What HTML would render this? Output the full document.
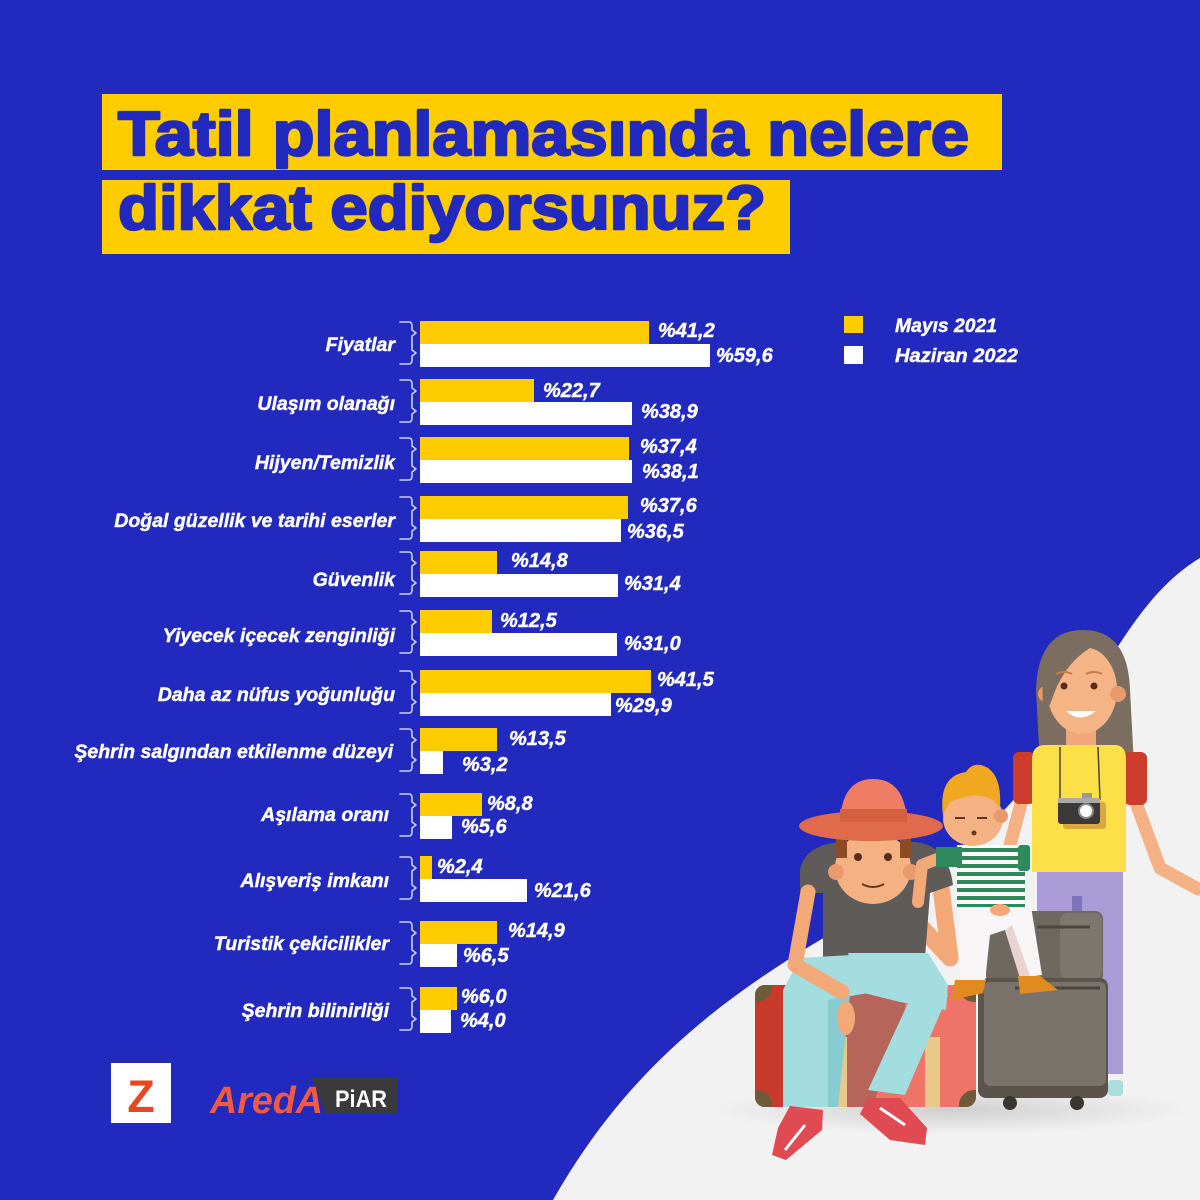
<!DOCTYPE html>
<html><head><meta charset="utf-8"><style>
html,body{margin:0;padding:0;background:#2229be;}
svg{display:block;}
.lb{font-family:"Liberation Sans",sans-serif;font-weight:bold;font-style:italic;fill:#fff;stroke:#fff;stroke-width:0.45;}
</style></head><body>
<svg width="1200" height="1200" viewBox="0 0 1200 1200" xmlns="http://www.w3.org/2000/svg">
<defs>
<pattern id="stripes" width="10" height="8" patternUnits="userSpaceOnUse">
<rect width="10" height="8" fill="#ffffff"/><rect y="0" width="10" height="4" fill="#2e8a5c"/>
</pattern>
<clipPath id="redc"><rect x="755" y="985" width="221" height="122" rx="10"/></clipPath>
<radialGradient id="shd" cx="0.5" cy="0.5" r="0.5"><stop offset="0" stop-color="#cfcfcf"/><stop offset="1" stop-color="#f2f2f2"/></radialGradient>
</defs>
<rect width="1200" height="1200" fill="#2229be"/>
<!-- gray region -->
<path d="M553,1200 C610,1100 680,1030 780,965 S960,870 1030,780 S1130,600 1200,558 L1200,1200 Z" fill="#f2f2f2"/>

<!-- title -->
<rect x="102" y="94" width="900" height="76" fill="#ffcc00"/>
<rect x="102" y="180" width="688" height="74" fill="#ffcc00"/>
<text x="118" y="155" font-family="Liberation Sans, sans-serif" font-weight="bold" font-size="62" fill="#2229be" stroke="#2229be" stroke-width="2.5" stroke-linejoin="round" textLength="851" lengthAdjust="spacingAndGlyphs">Tatil planlamasında nelere</text>
<text x="118" y="229" font-family="Liberation Sans, sans-serif" font-weight="bold" font-size="62" fill="#2229be" stroke="#2229be" stroke-width="2.5" stroke-linejoin="round" textLength="648" lengthAdjust="spacingAndGlyphs">dikkat ediyorsunuz?</text>

<!-- legend -->
<rect x="844" y="316" width="19" height="17" fill="#ffcc00"/>
<rect x="844" y="346" width="19" height="18" fill="#ffffff"/>
<text class="lb" x="895" y="332" font-size="19.5" textLength="102" lengthAdjust="spacingAndGlyphs">Mayıs 2021</text>
<text class="lb" x="895" y="362" font-size="19.5" textLength="123" lengthAdjust="spacingAndGlyphs">Haziran 2022</text>

<!-- bars -->
<g fill="#ffcc00">
<rect x="420" y="321" width="229" height="23"/>
<rect x="420" y="379" width="114" height="23"/>
<rect x="420" y="437" width="209" height="23"/>
<rect x="420" y="496" width="208" height="23"/>
<rect x="420" y="551" width="77" height="23"/>
<rect x="420" y="610" width="72" height="23"/>
<rect x="420" y="670" width="231" height="23"/>
<rect x="420" y="728" width="77" height="23"/>
<rect x="420" y="793" width="62" height="23"/>
<rect x="420" y="856" width="12" height="23"/>
<rect x="420" y="921" width="77" height="23"/>
<rect x="420" y="987" width="37" height="23"/>
</g>
<g fill="#ffffff">
<rect x="420" y="344" width="290" height="23"/>
<rect x="420" y="402" width="212" height="23"/>
<rect x="420" y="460" width="212" height="23"/>
<rect x="420" y="519" width="201" height="23"/>
<rect x="420" y="574" width="198" height="23"/>
<rect x="420" y="633" width="197" height="23"/>
<rect x="420" y="693" width="191" height="23"/>
<rect x="420" y="751" width="23" height="23"/>
<rect x="420" y="816" width="32" height="23"/>
<rect x="420" y="879" width="107" height="23"/>
<rect x="420" y="944" width="37" height="23"/>
<rect x="420" y="1010" width="31" height="23"/>
</g>

<!-- braces -->
<g fill="none" stroke="#c9cff5" stroke-width="1.6" stroke-linejoin="round" stroke-linecap="round">
<path d="M400,322 L409,322 Q412,322 412,326 L412,330 L416,333 L412,336 L412,350 L416,353 L412,356 L412,360 Q412,364 409,364 L400,364"/>
<path d="M400,380 L409,380 Q412,380 412,384 L412,388 L416,391 L412,394 L412,408 L416,411 L412,414 L412,418 Q412,422 409,422 L400,422"/>
<path d="M400,438 L409,438 Q412,438 412,442 L412,446 L416,449 L412,452 L412,466 L416,469 L412,472 L412,476 Q412,480 409,480 L400,480"/>
<path d="M400,497 L409,497 Q412,497 412,501 L412,505 L416,508 L412,511 L412,525 L416,528 L412,531 L412,535 Q412,539 409,539 L400,539"/>
<path d="M400,552 L409,552 Q412,552 412,556 L412,560 L416,563 L412,566 L412,580 L416,583 L412,586 L412,590 Q412,594 409,594 L400,594"/>
<path d="M400,611 L409,611 Q412,611 412,615 L412,619 L416,622 L412,625 L412,639 L416,642 L412,645 L412,649 Q412,653 409,653 L400,653"/>
<path d="M400,671 L409,671 Q412,671 412,675 L412,679 L416,682 L412,685 L412,699 L416,702 L412,705 L412,709 Q412,713 409,713 L400,713"/>
<path d="M400,729 L409,729 Q412,729 412,733 L412,737 L416,740 L412,743 L412,757 L416,760 L412,763 L412,767 Q412,771 409,771 L400,771"/>
<path d="M400,794 L409,794 Q412,794 412,798 L412,802 L416,805 L412,808 L412,822 L416,825 L412,828 L412,832 Q412,836 409,836 L400,836"/>
<path d="M400,857 L409,857 Q412,857 412,861 L412,865 L416,868 L412,871 L412,885 L416,888 L412,891 L412,895 Q412,899 409,899 L400,899"/>
<path d="M400,922 L409,922 Q412,922 412,926 L412,930 L416,933 L412,936 L412,950 L416,953 L412,956 L412,960 Q412,964 409,964 L400,964"/>
<path d="M400,988 L409,988 Q412,988 412,992 L412,996 L416,999 L412,1002 L412,1016 L416,1019 L412,1022 L412,1026 Q412,1030 409,1030 L400,1030"/>
</g>

<!-- category labels -->
<g class="lb" font-size="19.5" text-anchor="end">
<text x="395" y="351">Fiyatlar</text>
<text x="395" y="410">Ulaşım olanağı</text>
<text x="395" y="469">Hijyen/Temizlik</text>
<text x="395" y="527">Doğal güzellik ve tarihi eserler</text>
<text x="395" y="586">Güvenlik</text>
<text x="395" y="642">Yiyecek içecek zenginliği</text>
<text x="395" y="701">Daha az nüfus yoğunluğu</text>
<text x="393" y="758">Şehrin salgından etkilenme düzeyi</text>
<text x="389" y="821">Aşılama oranı</text>
<text x="389" y="887">Alışveriş imkanı</text>
<text x="389" y="950">Turistik çekicilikler</text>
<text x="389" y="1017">Şehrin bilinirliği</text>
</g>

<!-- value labels -->
<g class="lb" font-size="20">
<text x="658" y="337">%41,2</text>
<text x="716" y="362">%59,6</text>
<text x="543" y="397">%22,7</text>
<text x="641" y="418">%38,9</text>
<text x="640" y="453">%37,4</text>
<text x="642" y="478">%38,1</text>
<text x="640" y="512">%37,6</text>
<text x="627" y="538">%36,5</text>
<text x="511" y="567">%14,8</text>
<text x="624" y="590">%31,4</text>
<text x="500" y="627">%12,5</text>
<text x="624" y="650">%31,0</text>
<text x="657" y="686">%41,5</text>
<text x="615" y="712">%29,9</text>
<text x="509" y="745">%13,5</text>
<text x="462" y="771">%3,2</text>
<text x="487" y="810">%8,8</text>
<text x="461" y="833">%5,6</text>
<text x="437" y="873">%2,4</text>
<text x="534" y="897">%21,6</text>
<text x="508" y="937">%14,9</text>
<text x="463" y="962">%6,5</text>
<text x="461" y="1003">%6,0</text>
<text x="460" y="1027">%4,0</text>
</g>

<!-- logos -->
<rect x="111" y="1063" width="60" height="60" fill="#ffffff"/>
<text x="141" y="1112" text-anchor="middle" font-family="Liberation Sans, sans-serif" font-weight="bold" font-size="45" fill="#e8461e">Z</text>
<polygon points="312,1078 397,1078 397,1113 325,1113" fill="#3a3a3a"/>
<text x="210" y="1113" font-family="Liberation Sans, sans-serif" font-weight="bold" font-style="italic" font-size="38" fill="#f05a40" textLength="113" lengthAdjust="spacingAndGlyphs">AredA</text>
<text x="335" y="1107" font-family="Liberation Sans, sans-serif" font-weight="bold" font-size="24" fill="#ffffff" textLength="52" lengthAdjust="spacingAndGlyphs">PiAR</text>

<!-- illustration -->
<ellipse cx="950" cy="1110" rx="240" ry="24" fill="url(#shd)"/>

<!-- woman -->
<path d="M1040,765 L1036,690 Q1038,630 1083,630 Q1128,630 1130,690 L1134,765 Z" fill="#7b6e60"/>
<rect x="1066" y="722" width="30" height="28" fill="#f0a878"/>
<polyline points="1135,800 1160,868 1198,889" fill="none" stroke="#f4b183" stroke-width="13" stroke-linecap="round" stroke-linejoin="round"/>
<polyline points="1022,800 1010,845 1002,870" fill="none" stroke="#f4b183" stroke-width="13" stroke-linecap="round" stroke-linejoin="round"/>
<rect x="1013" y="752" width="22" height="52" rx="6" fill="#cc3d2c"/>
<rect x="1124" y="752" width="23" height="53" rx="6" fill="#cc3d2c"/>
<path d="M1032,760 Q1032,745 1045,745 L1115,745 Q1126,745 1126,760 L1126,872 L1032,872 Z" fill="#fde047"/>
<rect x="1037" y="872" width="86" height="202" fill="#a99bd6"/>
<rect x="1108" y="1080" width="15" height="16" rx="4" fill="#a8dede"/>
<line x1="1060" y1="747" x2="1060" y2="800" stroke="#444" stroke-width="1.5"/>
<line x1="1098" y1="747" x2="1100" y2="800" stroke="#444" stroke-width="1.5"/>
<rect x="1063" y="802" width="43" height="27" rx="3" fill="#d9a840"/>
<rect x="1082" y="793" width="10" height="6" fill="#999"/>
<rect x="1058" y="798" width="42" height="26" rx="3" fill="#3a3a3a"/>
<rect x="1058" y="798" width="42" height="5" fill="#aaa"/>
<circle cx="1086" cy="811" r="7" fill="#fff" stroke="#888" stroke-width="2"/>
<ellipse cx="1082" cy="690" rx="35" ry="44" fill="#f5b485"/>
<circle cx="1046" cy="694" r="8" fill="#e89a6c"/>
<circle cx="1118" cy="694" r="8" fill="#e89a6c"/>
<path d="M1043,705 Q1038,640 1083,632 Q1124,632 1126,690 Q1118,655 1090,648 Q1062,665 1050,705 Z" fill="#7b6e60"/>
<circle cx="1064" cy="686" r="3.5" fill="#5a2d1a"/>
<circle cx="1094" cy="686" r="3.5" fill="#5a2d1a"/>
<path d="M1056,674 Q1064,670 1072,674 M1086,674 Q1094,670 1102,674" stroke="#c87a4a" stroke-width="2" fill="none"/>
<path d="M1066,711 Q1080,724 1096,711 Z" fill="#ffffff"/>

<!-- gray suitcases -->
<rect x="1072" y="896" width="10" height="16" fill="#7e74b8"/>
<rect x="986" y="911" width="117" height="72" rx="8" fill="#6e6861"/>
<rect x="1060" y="913" width="42" height="66" rx="8" fill="#7d776f"/>
<line x1="1037" y1="927" x2="1090" y2="927" stroke="#4a4540" stroke-width="3"/>
<rect x="978" y="978" width="130" height="120" rx="8" fill="#5a544d"/>
<rect x="984" y="982" width="122" height="104" rx="6" fill="#79736b"/>
<line x1="1015" y1="988" x2="1100" y2="988" stroke="#4a4540" stroke-width="3"/>
<circle cx="1010" cy="1103" r="7" fill="#3a3632"/>
<circle cx="1077" cy="1103" r="7" fill="#3a3632"/>

<!-- red suitcase -->
<g clip-path="url(#redc)">
<rect x="755" y="985" width="221" height="122" fill="#ef7468"/>
<rect x="755" y="985" width="40" height="122" fill="#c73b2a"/>
<polygon points="815,987 905,987 905,1020 872,1107 815,1107" fill="#b7645b"/>
<rect x="832" y="1037" width="15" height="70" fill="#e8c98a"/>
<rect x="925" y="1037" width="15" height="70" fill="#e8c98a"/>
<circle cx="757" cy="987" r="15" fill="#6e5b3a"/>
<circle cx="974" cy="987" r="15" fill="#6e5b3a"/>
<circle cx="757" cy="1105" r="15" fill="#6e5b3a"/>
<circle cx="974" cy="1105" r="15" fill="#6e5b3a"/>
</g>

<!-- man -->
<polyline points="940,880 950,958 898,902" fill="none" stroke="#f2a877" stroke-width="17" stroke-linecap="round" stroke-linejoin="round"/>
<path d="M800,870 Q805,845 840,842 L915,842 Q948,845 953,885 L930,893 L925,958 L823,958 L823,893 L800,893 Z" fill="#5e5b58"/>
<polygon points="800,958 885,953 885,990 828,1000 828,1107 783,1107 783,990" fill="#a3dde0"/>
<polygon points="848,953 928,953 948,985 946,1010 900,1002 860,992" fill="#a3dde0"/>
<polygon points="915,988 948,995 905,1095 868,1090" fill="#a3dde0"/>
<polygon points="828,1000 850,995 838,1107 828,1107" fill="#86ccd0"/>
<polyline points="808,892 795,965 842,992" fill="none" stroke="#f2a877" stroke-width="15" stroke-linecap="round" stroke-linejoin="round"/>
<ellipse cx="846" cy="1018" rx="9" ry="17" fill="#f2a877"/>
<polygon points="790,1106 823,1110 822,1130 786,1160 772,1155 778,1128" fill="#e04a52"/>
<polygon points="868,1098 900,1098 927,1128 925,1145 890,1140 860,1114" fill="#e04a52"/>
<path d="M785,1150 L805,1125" stroke="#fff" stroke-width="3"/>
<path d="M880,1108 L905,1125" stroke="#fff" stroke-width="3"/>
<ellipse cx="873" cy="868" rx="38" ry="36" fill="#f3b184"/>
<circle cx="836" cy="872" r="8" fill="#e89a6c"/>
<circle cx="911" cy="872" r="8" fill="#e89a6c"/>
<rect x="836" y="836" width="11" height="22" fill="#8c4b25"/>
<rect x="900" y="836" width="11" height="22" fill="#8c4b25"/>
<circle cx="858" cy="857" r="4" fill="#5a2d1a"/>
<circle cx="888" cy="857" r="4" fill="#5a2d1a"/>
<path d="M862,884 Q873,890 884,884" stroke="#6a3520" stroke-width="2" fill="none"/>
<ellipse cx="871" cy="826" rx="72" ry="15" fill="#e06a4c"/>
<path d="M840,822 Q842,779 873,779 Q905,779 907,822 Z" fill="#ef7d65"/>
<rect x="840" y="809" width="67" height="13" fill="#d5603f"/>

<!-- child -->
<polygon points="958,900 1030,900 1042,975 1020,978 1005,930 990,935 985,982 960,982" fill="#f7f5f5"/>
<polygon points="1005,930 1020,978 1030,976 1012,925" fill="#e7d4d2"/>
<polygon points="955,980 986,980 983,993 952,1000" fill="#e08a20"/>
<polygon points="1018,976 1040,976 1058,990 1020,994" fill="#e08a20"/>
<polyline points="945,856 922,865 918,902" fill="none" stroke="#f2a877" stroke-width="12" stroke-linecap="round" stroke-linejoin="round"/>
<rect x="957" y="845" width="68" height="62" fill="url(#stripes)"/>
<rect x="936" y="847" width="26" height="20" fill="#2e8a5c"/>
<rect x="1018" y="845" width="12" height="26" rx="3" fill="#2e8a5c"/>
<ellipse cx="1000" cy="910" rx="10" ry="6" fill="#f2a877"/>
<ellipse cx="973" cy="818" rx="30" ry="28" fill="#f3b184"/>
<circle cx="1001" cy="816" r="7" fill="#e89a6c"/>
<path d="M943,815 Q938,776 966,772 Q974,760 988,768 Q1002,778 1000,808 L993,800 Q975,790 950,802 Z" fill="#f0a820"/>
<path d="M955,818 L965,818 M977,818 L987,818" stroke="#6a3520" stroke-width="2"/>
<circle cx="974" cy="833" r="2.5" fill="#6a3520"/>
</svg>
</body></html>
